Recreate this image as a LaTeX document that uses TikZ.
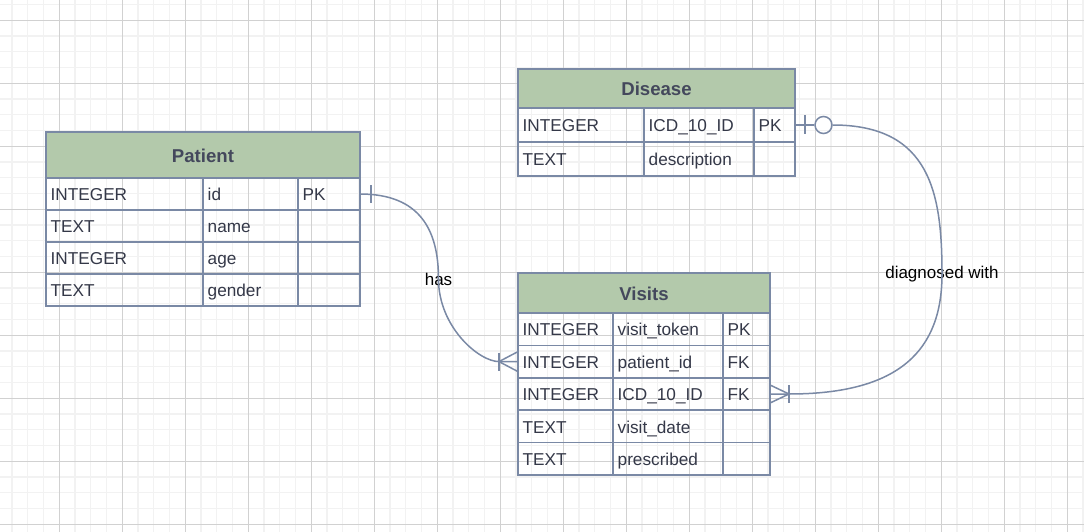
\documentclass[tikz,border=0pt]{standalone}
\usepackage{fontspec}
\setmainfont{Liberation Sans}
\definecolor{erline}{RGB}{122,137,165}
\definecolor{erhead}{RGB}{179,201,171}
\definecolor{ertitle}{RGB}{68,72,92}
\definecolor{ertext}{RGB}{52,56,72}
\begin{document}
\begin{tikzpicture}[
  x=1pt, y=-1pt,
  minor/.style={draw=black!5,line width=1.3pt},
  major/.style={draw=black!18,line width=1.2pt},
  tbhead/.style={draw=erline,fill=erhead,line width=1.5pt,anchor=north west,outer sep=0pt,inner sep=0pt,text=ertitle,font=\fontsize{18.6}{22}\selectfont\bfseries,text height=16pt,text depth=1.4pt},
  cell/.style 2 args={draw=erline,line width=1.5pt,anchor=north west,outer sep=0pt,inner xsep=4.7pt,inner ysep=0pt,align=left,text=ertext,font=\fontsize{17.2}{20}\selectfont,text height=15pt,text depth=1.6pt,text width=#1,minimum height=#2},
  rel/.style={draw=erline,line width=1.5pt},
  rlabel/.style={font=\fontsize{17}{20}\selectfont,text=black,inner sep=0pt},
]

% ---- Canvas and grid
\useasboundingbox (0,0) rectangle (1084,532);
\fill[white] (0,0) rectangle (1084,532);
\foreach \i in {0,...,68} \draw[minor] ({12.05+15.75*\i},0) -- ++(0,532);
\foreach \i in {0,...,33} \draw[minor] (0,{4.55+15.75*\i}) -- ++(1084,0);
\foreach \i in {1,...,17} \draw[major] ({-3.7+63*\i},0) -- ++(0,532);
\foreach \i in {0,...,8} \draw[major] (0,{20.3+63*\i}) -- ++(1084,0);

% ---- Patient (left)
\node[tbhead,minimum width=314,minimum height=46] (pat) at (46,132) {Patient};
\node[cell={147.6pt}{32}] (pat-t1) at (46,178) {INTEGER};
\node[cell={85.6pt}{32}]  (pat-n1) at (203,178) {id};
\node[cell={52.6pt}{32}]  (pat-k1) at (298,178) {PK};
\node[cell={147.6pt}{32}] (pat-t2) at (46,210) {TEXT};
\node[cell={85.6pt}{32}]  (pat-n2) at (203,210) {name};
\node[cell={52.6pt}{32}]  (pat-k2) at (298,210) {};
\node[cell={147.6pt}{32}] (pat-t3) at (46,242) {INTEGER};
\node[cell={85.6pt}{32}]  (pat-n3) at (203,242) {age};
\node[cell={52.6pt}{32}]  (pat-k3) at (298,242) {};
\node[cell={147.6pt}{32}] (pat-t4) at (46,274) {TEXT};
\node[cell={85.6pt}{32}]  (pat-n4) at (203,274) {gender};
\node[cell={52.6pt}{32}]  (pat-k4) at (298,274) {};

% ---- Disease (top right)
\node[tbhead,minimum width=277,minimum height=39] (dis) at (518,69) {Disease};
\node[cell={116.6pt}{34}] (dis-t1) at (518,108) {INTEGER};
\node[cell={100.6pt}{34}] (dis-n1) at (644,108) {ICD\_10\_ID};
\node[cell={31.6pt}{34}]  (dis-k1) at (754,108) {PK};
\node[cell={116.6pt}{34}] (dis-t2) at (518,142) {TEXT};
\node[cell={100.6pt}{34}] (dis-n2) at (644,142) {description};
\node[cell={31.6pt}{34}]  (dis-k2) at (754,142) {};

% ---- Visits (bottom middle)
\node[tbhead,minimum width=252,minimum height=40] (vis) at (518,273) {Visits};
\node[cell={85.6pt}{32.4}]  (vis-t1) at (518,313) {INTEGER};
\node[cell={100.6pt}{32.4}] (vis-n1) at (613,313) {visit\_token};
\node[cell={37.6pt}{32.4}]  (vis-k1) at (723,313) {PK};
\node[cell={85.6pt}{32.4}]  (vis-t2) at (518,345.4) {INTEGER};
\node[cell={100.6pt}{32.4}] (vis-n2) at (613,345.4) {patient\_id};
\node[cell={37.6pt}{32.4}]  (vis-k2) at (723,345.4) {FK};
\node[cell={85.6pt}{32.4}]  (vis-t3) at (518,377.8) {INTEGER};
\node[cell={100.6pt}{32.4}] (vis-n3) at (613,377.8) {ICD\_10\_ID};
\node[cell={37.6pt}{32.4}]  (vis-k3) at (723,377.8) {FK};
\node[cell={85.6pt}{32.4}]  (vis-t4) at (518,410.2) {TEXT};
\node[cell={100.6pt}{32.4}] (vis-n4) at (613,410.2) {visit\_date};
\node[cell={37.6pt}{32.4}]  (vis-k4) at (723,410.2) {};
\node[cell={85.6pt}{32.4}]  (vis-t5) at (518,442.6) {TEXT};
\node[cell={100.6pt}{32.4}] (vis-n5) at (613,442.6) {prescribed};
\node[cell={37.6pt}{32.4}]  (vis-k5) at (723,442.6) {};

% ---- Relation labels
\node[rlabel] (has) at (438.5,279) {has};
\node[rlabel] (diag) at (942,274) {diagnosed with};

% ---- Patient.id -> Visits.patient_id (one to many)
\draw[rel] (pat-k1.east) .. controls +(60,0) and +(0,-49) .. (has.center)
  .. controls +(0,48) and +(-20,0) .. ([xshift=-19pt]vis-t2.west) -- (vis-t2.west);
\draw[rel] ([xshift=11pt]pat-k1.east) ++(0,-9) -- ++(0,18);
\draw[rel] ([yshift=10pt]vis-t2.west) -- ([xshift=-19pt]vis-t2.west) -- ([yshift=-10pt]vis-t2.west);
\draw[rel] ([xshift=-19pt]vis-t2.west) ++(0,-9) -- ++(0,18);

% ---- Disease.ICD_10_ID -> Visits.ICD_10_ID (zero or one to many)
\node[draw=erline,line width=1.5pt,circle,inner sep=0pt,minimum size=17] (zero) at (823.5,125) {};
\draw[rel] (dis-k1.east) -- (zero.west);
\draw[rel] ([xshift=10pt]dis-k1.east) ++(0,-9.5) -- ++(0,19);
\draw[rel] (zero.east) .. controls +(98,0) and +(0,-80) .. (diag.center)
  .. controls +(0,76) and +(111,0) .. ([xshift=19pt]vis-k3.east) -- (vis-k3.east);
\draw[rel] ([yshift=9pt]vis-k3.east) -- ([xshift=19pt]vis-k3.east) -- ([yshift=-9pt]vis-k3.east);
\draw[rel] ([xshift=19pt]vis-k3.east) ++(0,-9) -- ++(0,18);

\end{tikzpicture}
\end{document}
